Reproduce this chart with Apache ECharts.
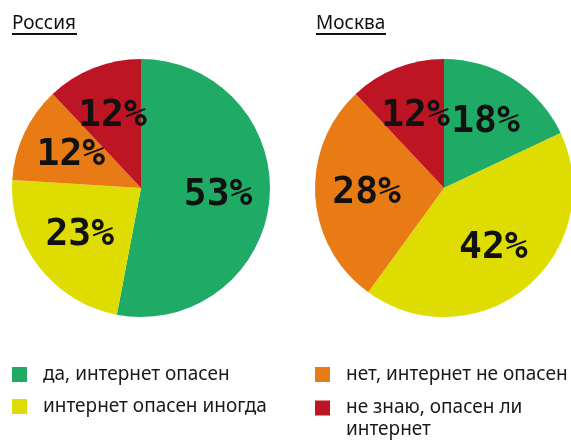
<!DOCTYPE html>
<html>
<head>
<meta charset="utf-8">
<script src="https://cdn.jsdelivr.net/npm/echarts@6/dist/echarts.min.js"></script>
<style>
  html, body { margin: 0; padding: 0; background: #fff; }
  #chart { width: 571px; height: 440px; }
</style>
</head>
<body>
<div id="chart"></div>
<script>
// answers, clockwise from 12 o'clock
const categories = ['да, интернет опасен', 'интернет опасен иногда', 'нет, интернет не опасен', 'не знаю, опасен ли интернет']
const colors = ['#1fab66', '#dedc00', '#e87b14', '#bd1523']
const regions = ['Россия', 'Москва']
const russiaValues = [53, 23, 12, 12]
const moscowValues = [18, 42, 28, 12]

const chart = echarts.init(document.getElementById('chart'))

function pieSeries(name, values, cx) {
  return {
    name: name,
    type: 'pie',
    center: [cx, 188],
    radius: 129,
    startAngle: 90,
    clockwise: true,
    silent: true,
    itemStyle: { borderWidth: 0 },
    label: { show: false },
    labelLine: { show: false },
    emphasis: { disabled: true },
    data: values.map((v, i) => ({ name: categories[i], value: v }))
  }
}

// transparent copy of the pie, only to push the percent labels a bit outward
function labelSeries(name, values, cx) {
  return {
    name: name + ' labels',
    type: 'pie',
    center: [cx, 188],
    radius: [20, 129],
    startAngle: 90,
    clockwise: true,
    silent: true,
    avoidLabelOverlap: false,
    labelLayout: { hideOverlap: false },
    itemStyle: { color: 'rgba(0,0,0,0)', borderWidth: 0 },
    label: {
      show: true,
      position: 'inside',
      formatter: '{c}%',
      fontFamily: 'DejaVu Sans Mono',
      fontWeight: 'bold',
      fontSize: 38,
      color: '#111'
    },
    labelLine: { show: false },
    emphasis: { disabled: true },
    data: values.map((v, i) => ({ name: categories[i], value: v }))
  }
}

const legendText = {
  fontFamily: 'Noto Sans',
  fontSize: 19,
  color: '#1a1a1a',
  padding: [0, 0, 0, 11]
}

const legendBase = {
  orient: 'vertical',
  itemWidth: 15,
  itemHeight: 15,
  itemGap: 13,
  icon: 'rect',
  selectedMode: false,
  textStyle: legendText
}

chart.setOption({
  color: colors,
  animation: false,
  title: [
    { text: regions[0], left: 7, top: 9, textStyle: { fontFamily: 'Noto Sans', fontSize: 19, fontWeight: 'normal', color: '#111' } },
    { text: regions[1], left: 311, top: 9, textStyle: { fontFamily: 'Noto Sans', fontSize: 19, fontWeight: 'normal', color: '#111' } }
  ],
  graphic: [
    { type: 'rect', shape: { x: 12, y: 33, width: 65, height: 2 }, style: { fill: '#111' } },
    { type: 'rect', shape: { x: 316, y: 33, width: 70, height: 2 }, style: { fill: '#111' } }
  ],
  legend: [
    Object.assign({}, legendBase, { left: 7, top: 360, data: [categories[0], categories[1]] }),
    Object.assign({}, legendBase, { left: 310, top: 360, data: [categories[2]] }),
    Object.assign({}, legendBase, {
      left: 310,
      top: 370,
      textStyle: Object.assign({}, legendText, { lineHeight: 22 }),
      data: [categories[3]],
      // empty first line keeps the first text line level with the square
      formatter: () => '\nне знаю, опасен ли\nинтернет'
    })
  ],
  series: [
    pieSeries(regions[0], russiaValues, 141),
    pieSeries(regions[1], moscowValues, 444),
    labelSeries(regions[0], russiaValues, 141),
    labelSeries(regions[1], moscowValues, 444)
  ]
})
</script>
</body>
</html>
